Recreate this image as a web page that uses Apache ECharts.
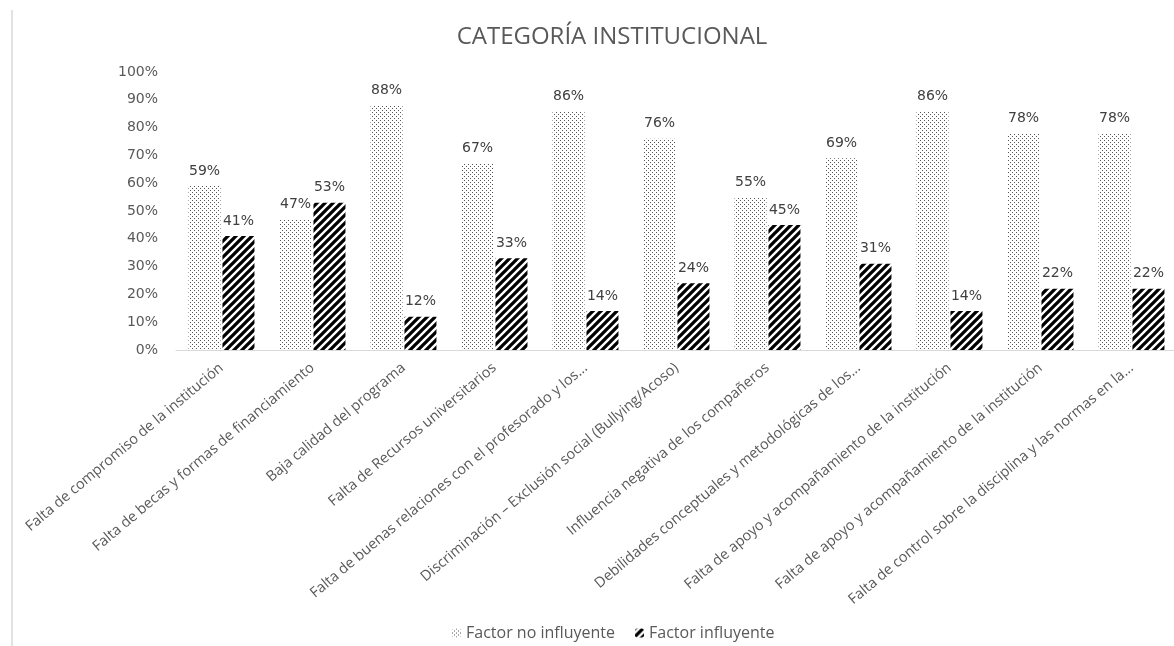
<!DOCTYPE html>
<html>
<head>
<meta charset="utf-8">
<script src="https://cdn.jsdelivr.net/npm/echarts@6/dist/echarts.min.js"></script>
<style>
  html, body { margin: 0; padding: 0; background: #fff; }
  #chart { width: 1174px; height: 646px; }
</style>
</head>
<body>
<div id="chart"></div>
<script>
// datos
var categorias = [
  'Falta de compromiso de la institución',
  'Falta de becas y formas de financiamiento',
  'Baja calidad del programa',
  'Falta de Recursos universitarios',
  'Falta de buenas relaciones con el profesorado y los...',
  'Discriminación – Exclusión social (Bullying/Acoso)',
  'Influencia negativa de los compañeros',
  'Debilidades conceptuales y metodológicas de los...',
  'Falta de apoyo y acompañamiento de la institución',
  'Falta de apoyo y acompañamiento de la institución',
  'Falta de control sobre la disciplina y las normas en la...'
];
var noInfluyente = [59, 47, 88, 67, 86, 76, 55, 69, 86, 78, 78];
var influyente = [41, 53, 12, 33, 14, 24, 45, 31, 14, 22, 22];
var nombres = ['Factor no influyente', 'Factor influyente'];

// patrón de puntos
function patronPuntos() {
  var c = document.createElement('canvas');
  c.width = 4; c.height = 4;
  var ctx = c.getContext('2d');
  ctx.fillStyle = '#fff';
  ctx.fillRect(0, 0, 4, 4);
  ctx.fillStyle = '#555';
  ctx.fillRect(0, 0, 1, 1);
  ctx.fillRect(2, 2, 1, 1);
  return c;
}
// patrón de rayas diagonales
function patronRayas() {
  var c = document.createElement('canvas');
  c.width = 8; c.height = 8;
  var ctx = c.getContext('2d');
  ctx.fillStyle = '#fff';
  ctx.fillRect(0, 0, 8, 8);
  ctx.strokeStyle = '#000';
  ctx.lineWidth = 3.3;
  ctx.beginPath();
  ctx.moveTo(0, 8); ctx.lineTo(8, 0);
  ctx.moveTo(-2, 2); ctx.lineTo(2, -2);
  ctx.moveTo(6, 10); ctx.lineTo(10, 6);
  ctx.stroke();
  return c;
}

var fuente = 'Open Sans';
var fuenteNum = 'DejaVu Sans';
var gris = '#595959';

var myChart = echarts.init(document.getElementById('chart'));
var option = {
  animation: false,
  textStyle: { fontFamily: fuente },
  title: {
    text: 'CATEGORÍA INSTITUCIONAL',
    left: 607,
    textAlign: 'center',
    top: 20,
    textStyle: { fontFamily: fuente, fontSize: 24, fontWeight: 'normal', color: gris }
  },
  legend: {
    bottom: 0,
    left: 447,
    itemWidth: 9,
    itemHeight: 9,
    itemGap: 20,
    textStyle: { fontFamily: fuente, fontSize: 16, color: gris },
    data: nombres
  },
  grid: { left: 176, top: 72, width: 1001, height: 278, outerBoundsMode: 'none', containLabel: false },
  xAxis: {
    type: 'category',
    data: categorias,
    axisLine: { lineStyle: { color: '#d9d9d9' } },
    axisTick: { show: false },
    axisLabel: {
      rotate: 40,
      interval: 0,
      margin: 16,
      fontFamily: fuente,
      fontSize: 14.5,
      color: gris
    }
  },
  yAxis: {
    type: 'value',
    min: 0,
    max: 100,
    interval: 10,
    splitLine: { show: false },
    axisLine: { show: false },
    axisTick: { show: false },
    axisLabel: { formatter: '{value}%', fontFamily: fuenteNum, fontSize: 14, color: gris, margin: 18 }
  },
  series: [
    {
      name: nombres[0],
      type: 'bar',
      data: noInfluyente,
      barWidth: 32,
      barGap: '6%',
      itemStyle: { color: { image: patronPuntos(), repeat: 'repeat' } },
      label: { show: true, position: 'top', distance: 8, formatter: '{c}%', fontFamily: fuenteNum, fontSize: 14, color: '#404040' }
    },
    {
      name: nombres[1],
      type: 'bar',
      data: influyente,
      barWidth: 32,
      itemStyle: { color: { image: patronRayas(), repeat: 'repeat' } },
      label: { show: true, position: 'top', distance: 8, formatter: '{c}%', fontFamily: fuenteNum, fontSize: 14, color: '#404040' }
    }
  ],
  graphic: [
    { type: 'line', shape: { x1: 12, y1: 10, x2: 12, y2: 646 }, style: { stroke: '#d9d9d9', lineWidth: 1.5 } }
  ]
};
myChart.setOption(option);
</script>
</body>
</html>
